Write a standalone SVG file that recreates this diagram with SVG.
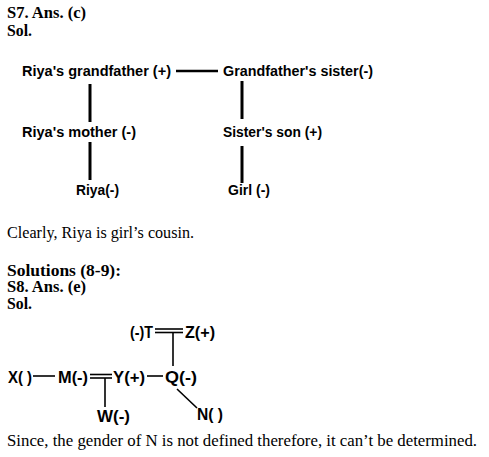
<svg xmlns="http://www.w3.org/2000/svg" width="489" height="457" viewBox="0 0 489 457">
<style>
.h{font-family:"Liberation Serif",serif;font-weight:bold;font-size:16px;fill:#000}
.b{font-family:"Liberation Serif",serif;font-size:16px;fill:#000}
.n1{font-family:"Liberation Sans",Arial,sans-serif;font-weight:bold;font-size:14.5px;fill:#000}
.n2{font-family:"Liberation Sans",Arial,sans-serif;font-weight:bold;font-size:17px;fill:#000}
.thick{stroke:#000;stroke-width:3;fill:none}
.thin{stroke:#000;stroke-width:1.6;fill:none}
</style>
<rect width="489" height="457" fill="#fff"/>
<text class="h" x="7" y="18" textLength="79" lengthAdjust="spacingAndGlyphs">S7. Ans. (c)</text>
<text class="h" x="7" y="36" textLength="25" lengthAdjust="spacingAndGlyphs">Sol.</text>

<g id="connectors1">
<line class="thick" x1="176" y1="71" x2="218" y2="71" style="stroke-width:2.5"/>
<line class="thick" x1="90" y1="84" x2="90" y2="122"/>
<line class="thick" x1="90" y1="142" x2="90" y2="180"/>
<line class="thick" x1="242" y1="81" x2="242" y2="119"/>
<line class="thick" x1="242" y1="146" x2="242" y2="183"/>
</g>
<g id="riya-grandfather"><text class="n1" x="22" y="76" textLength="149" lengthAdjust="spacingAndGlyphs">Riya's grandfather (+)</text></g>
<g id="grandfather-sister"><text class="n1" x="223" y="76" textLength="150" lengthAdjust="spacingAndGlyphs">Grandfather's sister(-)</text></g>
<g id="riya-mother"><text class="n1" x="22" y="137" textLength="114" lengthAdjust="spacingAndGlyphs">Riya's mother (-)</text></g>
<g id="sister-son"><text class="n1" x="223" y="137" textLength="99" lengthAdjust="spacingAndGlyphs">Sister's son (+)</text></g>
<g id="riya"><text class="n1" x="76" y="195" textLength="43" lengthAdjust="spacingAndGlyphs">Riya(-)</text></g>
<g id="girl"><text class="n1" x="228" y="195" textLength="42" lengthAdjust="spacingAndGlyphs">Girl (-)</text></g>

<text class="b" x="7" y="238" textLength="187" lengthAdjust="spacingAndGlyphs">Clearly, Riya is girl’s cousin.</text>
<text class="h" x="7" y="276" textLength="114" lengthAdjust="spacingAndGlyphs">Solutions (8-9):</text>
<text class="h" x="7" y="292" textLength="79" lengthAdjust="spacingAndGlyphs">S8. Ans. (e)</text>
<text class="h" x="7" y="309" textLength="25" lengthAdjust="spacingAndGlyphs">Sol.</text>

<g id="connectors2">
<line class="thin" x1="155" y1="329" x2="183" y2="329"/>
<line class="thin" x1="155" y1="332.5" x2="183" y2="332.5"/>
<line class="thin" x1="173" y1="333" x2="173" y2="366"/>
<line class="thin" x1="33" y1="376" x2="55" y2="376"/>
<line class="thin" x1="90" y1="374.5" x2="112" y2="374.5"/>
<line class="thin" x1="90" y1="378" x2="112" y2="378"/>
<line class="thin" x1="105" y1="378" x2="105" y2="407"/>
<line class="thin" x1="147" y1="376" x2="163" y2="376"/>
<line class="thin" x1="177" y1="389" x2="197" y2="408"/>
</g>
<g id="T"><text class="n2" x="130" y="338" textLength="23" lengthAdjust="spacingAndGlyphs">(-)T</text></g>
<g id="Z"><text class="n2" x="185" y="338" textLength="30" lengthAdjust="spacingAndGlyphs">Z(+)</text></g>
<g id="X"><text class="n2" x="8" y="383" textLength="24" lengthAdjust="spacingAndGlyphs">X( )</text></g>
<g id="M"><text class="n2" x="58" y="383" textLength="30" lengthAdjust="spacingAndGlyphs">M(-)</text></g>
<g id="Y"><text class="n2" x="113" y="383" textLength="32" lengthAdjust="spacingAndGlyphs">Y(+)</text></g>
<g id="Q"><text class="n2" x="165" y="383" textLength="32" lengthAdjust="spacingAndGlyphs">Q(-)</text></g>
<g id="W"><text class="n2" x="97" y="422" textLength="33" lengthAdjust="spacingAndGlyphs">W(-)</text></g>
<g id="N"><text class="n2" x="197" y="420" textLength="26" lengthAdjust="spacingAndGlyphs">N( )</text></g>

<text class="b" x="7" y="446" textLength="470" lengthAdjust="spacingAndGlyphs">Since, the gender of N is not defined therefore, it can’t be determined.</text>
</svg>
